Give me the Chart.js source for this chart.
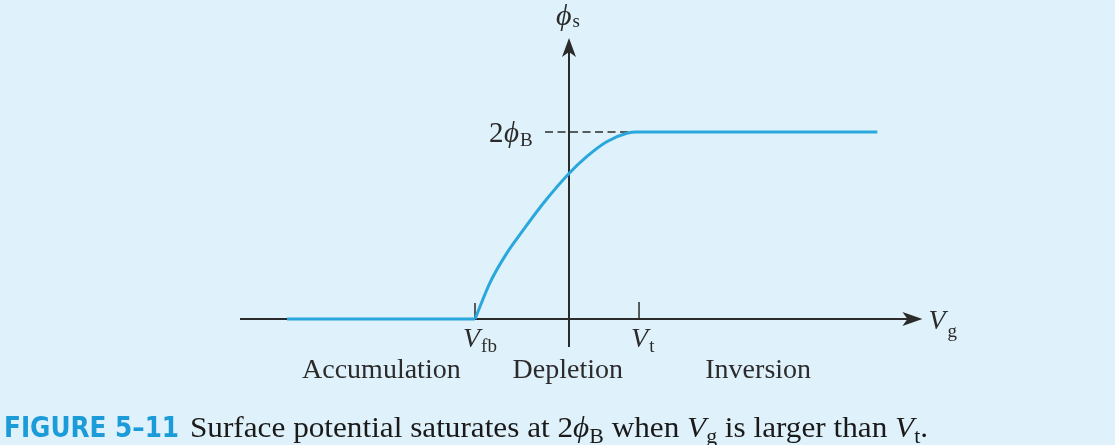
<!DOCTYPE html>
<html>
<head>
<meta charset="utf-8">
<script src="https://cdn.jsdelivr.net/npm/chart.js@4/dist/chart.umd.min.js"></script>
<style>
  html, body { margin: 0; padding: 0; background: #dff1fa; }
  canvas { display: block; }
</style>
</head>
<body>
<canvas id="phiChart" width="1115" height="445"></canvas>
<script>
// Surface potential vs gate voltage (units: Vfb = -1, 2phiB = 1)

const vgAcc = [-3.0, -1.0];
const phiAcc = [0, 0];

const vgCurve = [-1.0, -0.84, -0.663, -0.486, -0.273, 0.0, 0.188, 0.401, 0.614, 0.72, 3.28];
const phiCurve = [0, 0.195, 0.351, 0.476, 0.619, 0.778, 0.868, 0.948, 0.993, 1.0, 1.0];

const vgRange = [-3.5, 3.8];
const phiRange = [-0.15, 1.55];

const vFb = -1.0;
const vT = 0.745;
const twoPhiB = 1.0;
const dashStart = -0.255;
const dashEnd = 0.65;

const regionLabels = ['Accumulation', 'Depletion', 'Inversion'];
const regionLeft = [-2.84, -0.6, 1.45];

const serif = '"Liberation Serif", "DejaVu Serif", serif';
const ink = '#2b2b2b';
const curveBlue = '#2aa7dc';

function pts(xs, ys) {
    return xs.map((x, i) => ({ x: x, y: ys[i] }));
}

// main glyph + subscript
function subLabel(ctx, x, y, main, sub, opts) {
    opts = opts || {};
    const mainSize = opts.size || 28;
    const subSize = opts.subSize || 19;
    ctx.font = (opts.italic === false ? '' : 'italic ') + mainSize + 'px ' + serif;
    ctx.fillText(main, x, y);
    const w = ctx.measureText(main).width;
    ctx.font = subSize + 'px ' + serif;
    ctx.fillText(sub, x + w + (opts.gap || 1), y + (opts.drop || 6));
}

const axesPlugin = {
    id: 'axesPlugin',
    beforeDatasetsDraw(chart) {
        const ctx = chart.ctx;
        const xs = chart.scales.x, ys = chart.scales.y;
        const x0 = xs.getPixelForValue(0);
        const y0 = ys.getPixelForValue(0);
        ctx.save();
        ctx.strokeStyle = ink;
        ctx.fillStyle = ink;
        ctx.lineWidth = 2;

        // horizontal axis
        const xEnd = xs.getPixelForValue(3.76);
        ctx.beginPath();
        ctx.moveTo(xs.left, y0);
        ctx.lineTo(xEnd - 10, y0);
        ctx.stroke();
        ctx.beginPath();
        ctx.moveTo(xEnd, y0);
        ctx.lineTo(xEnd - 20, y0 - 7);
        ctx.lineTo(xEnd - 15, y0);
        ctx.lineTo(xEnd - 20, y0 + 7);
        ctx.closePath();
        ctx.fill();

        // vertical axis
        const yTop = ys.getPixelForValue(1.503);
        ctx.beginPath();
        ctx.moveTo(x0, ys.bottom);
        ctx.lineTo(x0, yTop + 10);
        ctx.stroke();
        ctx.beginPath();
        ctx.moveTo(x0, yTop);
        ctx.lineTo(x0 - 7, yTop + 19);
        ctx.lineTo(x0, yTop + 14);
        ctx.lineTo(x0 + 7, yTop + 19);
        ctx.closePath();
        ctx.fill();

        // ticks at Vfb and Vt
        ctx.lineWidth = 1.5;
        ctx.beginPath();
        ctx.moveTo(xs.getPixelForValue(vFb), y0);
        ctx.lineTo(xs.getPixelForValue(vFb), y0 - 16);
        ctx.moveTo(xs.getPixelForValue(vT), y0);
        ctx.lineTo(xs.getPixelForValue(vT), y0 - 17);
        ctx.stroke();

        // dashed 2phiB guide
        const yB = ys.getPixelForValue(twoPhiB);
        ctx.setLineDash([8, 4.5]);
        ctx.lineWidth = 1.7;
        ctx.beginPath();
        ctx.moveTo(xs.getPixelForValue(dashStart), yB);
        ctx.lineTo(xs.getPixelForValue(dashEnd), yB);
        ctx.stroke();
        ctx.setLineDash([]);

        // labels
        ctx.textBaseline = 'alphabetic';
        subLabel(ctx, x0 - 13, yTop - 13, 'ϕ', 's', { size: 30, subSize: 19, drop: 2 });
        ctx.font = '29px ' + serif;
        ctx.fillText('2', xs.getPixelForValue(dashStart) - 56, yB + 10);
        subLabel(ctx, xs.getPixelForValue(dashStart) - 41, yB + 10, 'ϕ', 'B', { size: 29, subSize: 19, drop: 4 });
        subLabel(ctx, xs.getPixelForValue(vFb) - 12, y0 + 28, 'V', 'fb', { drop: 5 });
        subLabel(ctx, xs.getPixelForValue(vT) - 8, y0 + 28, 'V', 't', { drop: 5 });
        subLabel(ctx, xEnd + 6, y0 + 10, 'V', 'g', { drop: 8, gap: 2 });

        ctx.font = '28px ' + serif;
        regionLabels.forEach((t, i) => {
            ctx.fillText(t, xs.getPixelForValue(regionLeft[i]), y0 + 59);
        });

        // caption
        const base = 437;
        ctx.fillStyle = '#1b9bd8';
        ctx.font = 'bold 27.5px "DejaVu Sans Condensed", "DejaVu Sans", sans-serif';
        ctx.fillText('FIGURE 5–11', 4, base);

        const reg = '30px ' + serif, it = 'italic 30px ' + serif, sm = '21px ' + serif;
        const parts = [
            ['Surface potential saturates at 2', reg, 0],
            ['ϕ', it, 0], ['B', sm, 6],
            [' when ', reg, 0],
            ['V', it, 0], ['g', sm, 6],
            [' is larger than ', reg, 0],
            ['V', it, 0], ['t', sm, 6],
            ['.', reg, 0]
        ];
        let total = 0;
        parts.forEach(p => { ctx.font = p[1]; total += ctx.measureText(p[0]).width; });
        const sx = (928 - 190) / total;
        ctx.save();
        ctx.translate(190, base);
        ctx.scale(sx, 1);
        ctx.fillStyle = '#1a1a1a';
        let cx = 0;
        parts.forEach(p => {
            ctx.font = p[1];
            ctx.fillText(p[0], cx, p[2]);
            cx += ctx.measureText(p[0]).width;
        });
        ctx.restore();
        ctx.restore();
    }
};

const ctx = document.getElementById('phiChart').getContext('2d');
new Chart(ctx, {
    type: 'line',
    data: {
        datasets: [
            {
                data: pts(vgAcc, phiAcc),
                borderColor: curveBlue,
                borderWidth: 3,
                pointRadius: 0,
                tension: 0
            },
            {
                data: pts(vgCurve, phiCurve),
                borderColor: curveBlue,
                borderWidth: 3,
                pointRadius: 0,
                cubicInterpolationMode: 'monotone'
            }
        ]
    },
    options: {
        responsive: false,
        animation: false,
        layout: { padding: { left: 240, right: 188.8, top: 29.15, bottom: 97.95 } },
        scales: {
            x: { type: 'linear', min: vgRange[0], max: vgRange[1], display: false },
            y: { type: 'linear', min: phiRange[0], max: phiRange[1], display: false }
        },
        plugins: {
            legend: { display: false },
            tooltip: { enabled: false }
        }
    },
    plugins: [axesPlugin]
});
</script>
</body>
</html>
